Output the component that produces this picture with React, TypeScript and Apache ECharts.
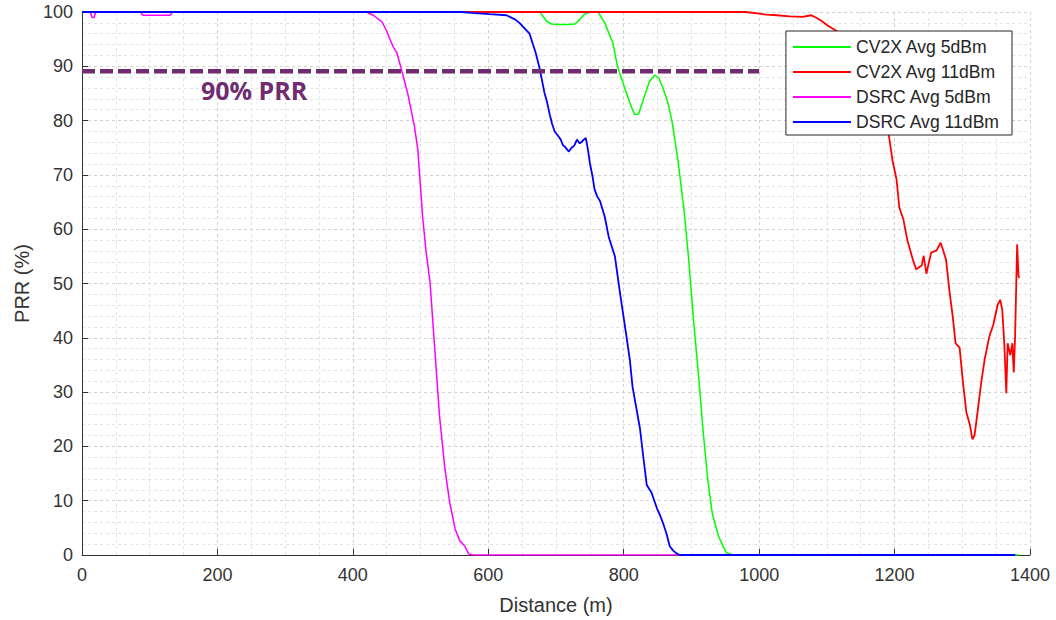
import React, { useEffect, useRef } from "react";
import * as echarts from "echarts";

// ---- Data (distance in m, PRR in %) ----
const cv2x5Distance = [0, 676, 681, 686, 693, 705, 718, 728, 735, 742, 750, 762, 772, 784, 791, 801, 809, 816, 822, 830, 838, 846, 852, 858, 865, 871, 880, 889, 896, 903, 911, 917, 924, 931, 940, 947, 952, 961, 1384];
const cv2x5Prr = [100, 100, 99.2, 98.3, 97.8, 97.7, 97.7, 97.8, 98.6, 99.6, 100, 100, 98, 94.3, 89.9, 86.2, 83.3, 81.1, 81.2, 84.3, 87.2, 88.4, 87.8, 86, 83.4, 80.1, 72.8, 63.6, 54.4, 43.4, 32.4, 23.2, 14, 7.5, 3.5, 1.5, 0.4, 0, 0];

const cv2x11Distance = [0, 980, 1000, 1011, 1026, 1045, 1064, 1077, 1085, 1093, 1100, 1109, 1118, 1125, 1140, 1155, 1170, 1180, 1188, 1191, 1197, 1203, 1207, 1210, 1213, 1219, 1227, 1232, 1236, 1240, 1243, 1247, 1250, 1254, 1262, 1268, 1271, 1276, 1281, 1286, 1290, 1296, 1301, 1306, 1311, 1315, 1318, 1321, 1328, 1333, 1340, 1346, 1352, 1356, 1359, 1362, 1365, 1367, 1371, 1374, 1376, 1378, 1381, 1383, 1384];
const cv2x11Prr = [100, 100, 99.7, 99.5, 99.4, 99.2, 99.1, 99.4, 98.9, 98.3, 97.6, 96.9, 96.2, 95.5, 93, 89.5, 85, 81, 77.6, 77.8, 72.6, 69.1, 64, 62.9, 61.8, 57.9, 54.4, 52.6, 53, 53.3, 55.1, 51.8, 53.5, 55.7, 56.1, 57.5, 56.4, 54.4, 48.7, 43.8, 39, 38.2, 31.8, 26.3, 24.1, 21.3, 22, 24.8, 31.8, 36, 40.3, 42.5, 46, 47, 45.2, 39, 29.8, 39, 36.8, 39, 33.6, 40.3, 57.2, 51.5, 51];

const dsrc5Distance = [0, 12, 15, 18, 20, 86, 90, 130, 134, 420, 430, 443, 450, 455, 460, 465, 472, 481, 491, 496, 503, 508, 514, 521, 528, 536, 543, 551, 558, 565, 571, 578, 1378];
const dsrc5Prr = [100, 100, 99, 99, 100, 100, 99.4, 99.4, 100, 100, 99.4, 98.2, 96.5, 94.9, 93.5, 92.5, 89.3, 85, 78.9, 74.6, 62.3, 56, 50.2, 37.9, 25.6, 15.8, 9.7, 4.8, 2.6, 1.7, 0.2, 0, 0];

const dsrc11Distance = [0, 560, 580, 602, 627, 640, 646, 655, 661, 666, 670, 676, 683, 686, 691, 694, 698, 703, 707, 710, 713, 719, 723, 727, 731, 735, 738, 741, 744, 747, 750, 754, 757, 761, 765, 772, 778, 787, 794, 799, 804, 809, 813, 818, 824, 829, 834, 841, 849, 854, 858, 863, 868, 873, 878, 883, 1378];
const dsrc11Prr = [100, 100, 99.8, 99.6, 99.4, 98.6, 98, 96.8, 96, 94, 92.5, 89.5, 85.1, 83.8, 81, 79.5, 78, 77.2, 76.5, 75.5, 75.2, 74.3, 75, 75.4, 76.5, 75.8, 76.1, 76.5, 76.8, 74.8, 72.2, 69.7, 67.3, 66, 65.2, 62.3, 58.5, 55, 48.7, 44.5, 40.3, 36, 31, 27.5, 23.3, 18, 12.9, 11.5, 8.6, 7.2, 5.9, 4, 1.6, 0.8, 0.3, 0, 0];

const seriesNames = ["CV2X Avg 5dBm", "CV2X Avg 11dBm", "DSRC Avg 5dBm", "DSRC Avg 11dBm"];
const seriesColors = ["#00ff00", "#ff0000", "#ff00ff", "#0000ff"];

const thresholdPrr = 89.1;
const thresholdRange = [0, 1000];
const thresholdLabel = "90% PRR";

const xTicks = { min: 0, max: 1400, interval: 200 };
const yTicks = { min: 0, max: 100, interval: 10 };

const pairs = (xs: number[], ys: number[]) => xs.map((x, i) => [x, ys[i]]);

export default function App() {
  const ref = useRef<HTMLDivElement>(null);

  useEffect(() => {
    document.body.style.margin = "0";
    const chart = echarts.init(ref.current!, null, { renderer: "svg" });
    const font = '"Liberation Sans", Arial, sans-serif';
    const axisColor = "#333333";
    const gridMajor = { show: true, lineStyle: { type: [3, 3] as any, color: "#d2d2d2", width: 1 } };
    const gridMinor = { show: true, lineStyle: { type: [3, 3] as any, color: "#e3e3e3", width: 1 } };

    const data = [
      pairs(cv2x5Distance, cv2x5Prr),
      pairs(cv2x11Distance, cv2x11Prr),
      pairs(dsrc5Distance, dsrc5Prr),
      pairs(dsrc11Distance, dsrc11Prr),
    ];
    const widths = [1.5, 1.8, 1.5, 1.8];

    chart.setOption({
      animation: false,
      backgroundColor: "#ffffff",
      grid: { left: 82, right: 26, top: 12, bottom: 64, containLabel: false },
      xAxis: {
        type: "value",
        min: xTicks.min,
        max: xTicks.max,
        interval: xTicks.interval,
        name: "Distance (m)",
        nameLocation: "middle",
        nameGap: 40,
        nameTextStyle: { fontSize: 20, color: axisColor, fontFamily: font },
        axisLine: { show: true, onZero: false, lineStyle: { color: axisColor, width: 1 } },
        axisTick: { show: true, inside: true, length: 6, lineStyle: { color: axisColor } },
        axisLabel: { fontSize: 18, color: axisColor, fontFamily: font, margin: 11, formatter: (v: number) => String(v) },
        splitLine: gridMajor,
        minorTick: { show: false, splitNumber: 4 },
        minorSplitLine: gridMinor,
      },
      yAxis: {
        type: "value",
        min: yTicks.min,
        max: yTicks.max,
        interval: yTicks.interval,
        name: "PRR (%)",
        nameLocation: "middle",
        nameGap: 50,
        nameTextStyle: { fontSize: 20, color: axisColor, fontFamily: font },
        axisLine: { show: true, onZero: false, lineStyle: { color: axisColor, width: 1 } },
        axisTick: { show: true, inside: true, length: 6, lineStyle: { color: axisColor } },
        axisLabel: { fontSize: 18, color: axisColor, fontFamily: font, margin: 9, formatter: (v: number) => String(v) },
        splitLine: gridMajor,
        minorTick: { show: false, splitNumber: 5 },
        minorSplitLine: gridMinor,
      },
      legend: {
        data: seriesNames,
        orient: "vertical",
        right: 44,
        top: 31,
        itemWidth: 58,
        itemHeight: 14,
        itemGap: 7,
        padding: [7, 12, 4, 6],
        backgroundColor: "#ffffff",
        borderColor: "#262626",
        borderWidth: 1,
        borderRadius: 0,
        itemStyle: { opacity: 0 },
        textStyle: { fontSize: 17.6, color: "#262626", fontFamily: font, lineHeight: 18 },
      },
      series: [
        ...seriesNames.map((name, i) => ({
          name,
          type: "line",
          data: data[i],
          symbol: "none",
          showSymbol: false,
          silent: true,
          clip: true,
          z: 2 + i,
          lineStyle: { color: seriesColors[i], width: widths[i] },
          itemStyle: { color: seriesColors[i] },
        })),
        {
          name: "threshold",
          type: "line",
          data: [
            [thresholdRange[0], thresholdPrr],
            [thresholdRange[1], thresholdPrr],
          ],
          symbol: "none",
          silent: true,
          z: 10,
          lineStyle: { color: "#6f2c70", width: 4.5, type: [13, 5] },
          itemStyle: { color: "#6f2c70" },
        },
      ],
      graphic: [
        {
          type: "text",
          left: 201,
          top: 77,
          z: 20,
          style: {
            text: thresholdLabel,
            fill: "#6f2c70",
            font: 'bold 25px "Open Sans", sans-serif',
          },
        },
      ],
    });
    return () => chart.dispose();
  }, []);

  return <div ref={ref} style={{ width: 1056, height: 620 }} />;
}
